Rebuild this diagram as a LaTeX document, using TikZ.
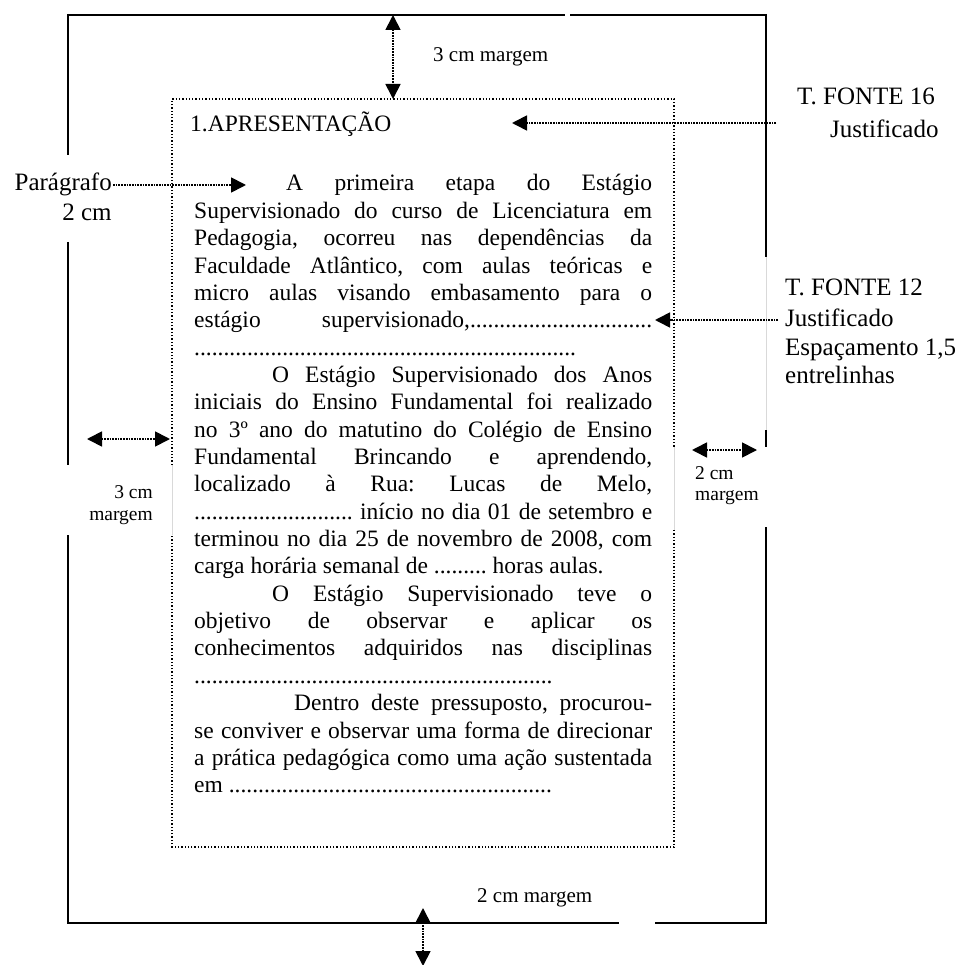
\documentclass[tikz,border=0pt]{standalone}
\usepackage{fontspec}
\setmainfont{Liberation Serif}
\usetikzlibrary{arrows.meta}
\frenchspacing
\newcommand\dotrun[1]{\ifnum#1>0 .\expandafter\dotrun\expandafter{\the\numexpr#1-1\relax}\fi}
\newcommand\jl[1]{\hbox to \linewidth{#1}}
\newcommand\rl[1]{\hbox to \linewidth{#1\hfil}}
\tikzset{
  frameh/.style={line width=2.2pt},
  framev/.style={line width=1.8pt},
  faint/.style={line width=0.8pt, black!15},
  boxline/.style={dotted, line width=1.3pt},
  arr/.style={densely dotted, line width=1.7pt, -{Triangle[length=15pt,width=15pt]}},
  darr/.style={densely dotted, line width=1.7pt, {Triangle[length=15pt,width=15pt]}-{Triangle[length=15pt,width=15pt]}},
  lab/.style={inner sep=0pt, font=\fontsize{25}{29}\selectfont},
  labs/.style={inner sep=0pt, font=\fontsize{21}{24}\selectfont},
  labxs/.style={inner sep=0pt, font=\fontsize{19.5}{23}\selectfont},
  bodytxt/.style={inner sep=0pt, font=\fontsize{23.5}{27.35}\selectfont},
}
\begin{document}
\begin{tikzpicture}[x=1pt,y=-1pt]
\useasboundingbox (0,0) rectangle (968,965);
% outer frame
\draw[frameh] (67.1,15) -- (565,15);
\draw[frameh] (570,15) -- (766.9,15);
\draw[frameh] (67.1,923) -- (619,923);
\draw[frameh] (655,923) -- (766.9,923);
\draw[framev] (68,14) -- (68,155);
\draw[framev] (68,242) -- (68,465);
\draw[framev] (68,535) -- (68,924);
\draw[framev] (766,14) -- (766,257);
\draw[faint] (766,257) -- (766,430);
\draw[framev] (766,430) -- (766,447);
\draw[framev] (766,527) -- (766,924);
% inner dotted text area
\draw[boxline] (172,465) -- (172,99) -- (674,99) -- (674,447);
\draw[boxline] (674,530) -- (674,847) -- (172,847) -- (172,535);
\draw[faint] (172,465) -- (172,535);
\draw[faint] (674,447) -- (674,530);

% heading and body
\node[bodytxt, anchor=base west] (head) at (190,132) {1.APRESENTAÇÃO};
\node[bodytxt, anchor=base west] (body) at (194,191) {\parbox[t]{458pt}{\fontsize{23.5}{27.35}\selectfont
\jl{\hspace{92pt}A primeira etapa do Estágio}
\jl{Supervisionado do curso de Licenciatura em}
\jl{Pedagogia, ocorreu nas dependências da}
\jl{Faculdade Atlântico, com aulas teóricas e}
\jl{micro aulas visando embasamento para o}
\jl{estágio supervisionado,\dotrun{31}}
\rl{\dotrun{65}}
\jl{\hspace{78pt}O Estágio Supervisionado dos Anos}
\jl{iniciais do Ensino Fundamental foi realizado}
\jl{no 3º ano do matutino do Colégio de Ensino}
\jl{Fundamental Brincando e aprendendo,}
\jl{localizado à Rua: Lucas de Melo,}
\jl{\dotrun{27} início no dia 01 de setembro e}
\jl{terminou no dia 25 de novembro de 2008, com}
\rl{carga horária semanal de \dotrun{9} horas aulas.}
\jl{\hspace{78pt}O Estágio Supervisionado teve o}
\jl{objetivo de observar e aplicar os}
\jl{conhecimentos adquiridos nas disciplinas}
\rl{\dotrun{61}}
\jl{\hspace{100pt}Dentro deste pressuposto, procurou-}
\jl{se conviver e observar uma forma de direcionar}
\jl{a prática pedagógica como uma ação sustentada}
\rl{em \dotrun{55}}
}};

% top margin
\node[labs, anchor=base west] (topl) at (433,62) {3 cm margem};
\coordinate (ta) at (393,15);
\coordinate (tb) at (393,99);
\draw[darr] (ta) -- (tb);

% bottom margin
\node[labs, anchor=base west] (botl) at (477,902) {2 cm margem};
\coordinate (ba) at (423,908);
\coordinate (bb) at (423,966);
\draw[darr] (ba) -- (bb);

% T. FONTE 16
\node[lab, anchor=base west] (f16) at (797,105) {T. FONTE 16};
\node[lab, anchor=base west] (j16) at (830,138) {Justificado};
\coordinate (f16s) at (776,123);
\coordinate (f16t) at (512,123);
\draw[arr] (f16s) -- (f16t);

% Paragrafo
\node[lab, anchor=base east] (par) at (112,191) {Parágrafo};
\node[lab, anchor=base] (par2) at (87,221) {2 cm};
\coordinate (pars) at (113,185);
\coordinate (part) at (246,185);
\draw[arr] (pars) -- (part);

% T. FONTE 12
\node[lab, anchor=base west] (f12a) at (785,296) {T. FONTE 12};
\node[lab, anchor=base west] (f12b) at (785,326) {Justificado};
\node[lab, anchor=base west] (f12c) at (785,355) {Espaçamento 1,5};
\node[lab, anchor=base west] (f12d) at (785,383) {entrelinhas};
\coordinate (f12s) at (778,320);
\coordinate (f12t) at (655,320);
\draw[arr] (f12s) -- (f12t);

% left margin
\coordinate (la) at (87,439);
\coordinate (lb) at (170,439);
\draw[darr] (la) -- (lb);
\node[labxs, anchor=base east] (l3) at (153,498) {3 cm};
\node[labxs, anchor=base east] (lm) at (153,520) {margem};

% right margin
\coordinate (ra) at (692,450);
\coordinate (rb) at (757,450);
\draw[darr] (ra) -- (rb);
\node[labxs, anchor=base west] (r2) at (695,479) {2 cm};
\node[labxs, anchor=base west] (rm) at (695,500) {margem};
\end{tikzpicture}
\end{document}
